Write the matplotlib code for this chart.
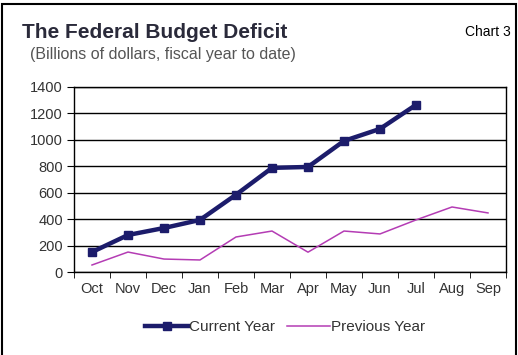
import matplotlib
matplotlib.use("Agg")
import matplotlib.pyplot as plt
from matplotlib.patches import Rectangle
import numpy as np

plt.rcParams['font.family'] = ['Liberation Sans', 'DejaVu Sans']

months = ["Oct", "Nov", "Dec", "Jan", "Feb", "Mar", "Apr", "May", "Jun", "Jul", "Aug", "Sep"]
current_year = [151, 280, 333, 394, 585, 788, 795, 992, 1083, 1265]
previous_year = [53, 151, 98, 91, 265, 310, 150, 310, 288, 394, 492, 447]
y_ticks = [0, 200, 400, 600, 800, 1000, 1200, 1400]

fig = plt.figure(figsize=(5.18, 3.55), dpi=100)
ax = fig.add_axes([74/518, 1-272/355, (506-74)/518, (272-87)/355])

x = np.arange(len(months))
ax.plot(x[:len(current_year)], current_year, color="#1c1c6b", lw=3.2, marker="s",
        markersize=6, label="Current Year", zorder=4)
ax.plot(x, previous_year, color="#b43cb4", lw=1.1, label="Previous Year", zorder=3)

ax.set_xlim(-0.5, 11.5)
ax.set_ylim(0, 1400)
ax.set_yticks(y_ticks)
ax.set_xticks(x)
ax.set_xticklabels(months)
ax.set_xticks(np.arange(-0.5, 12, 1), minor=True)
ax.tick_params(axis='x', which='major', length=0, pad=7, labelsize=10.5, colors="#333333")
ax.tick_params(axis='x', which='minor', length=4, direction='out', color='black')
ax.tick_params(axis='y', length=5, direction='out', labelsize=10.5, colors="#333333", pad=3)
ax.tick_params(axis='y', color='black')
ax.grid(axis='y', color='black', lw=1.0)
ax.set_axisbelow(True)
for s in ax.spines.values():
    s.set_color('black')
    s.set_linewidth(1.0)

fig.text(22/518, 1-32/355, "The Federal Budget Deficit", fontsize=15, fontweight='bold',
         color="#2a2a3a", ha='left', va='center')
fig.text(30/518, 1-55/355, "(Billions of dollars, fiscal year to date)", fontsize=11.5,
         color="#555555", ha='left', va='center')
fig.text(465/518, 1-32/355, "Chart 3", fontsize=10, color="black", ha='left', va='center')

leg = fig.legend(loc='center', bbox_to_anchor=(285/518, 1-327/355), ncol=2, frameon=False,
                 fontsize=11, handlelength=2.8, handletextpad=0.05, columnspacing=0.8,
                 labelcolor="#333333")

fig.patches.append(Rectangle((2/518, -0.05), 514/518, 1-4/355+0.05, transform=fig.transFigure,
                             fill=False, edgecolor='black', lw=1.5))

fig.savefig("out.png", dpi=100)
